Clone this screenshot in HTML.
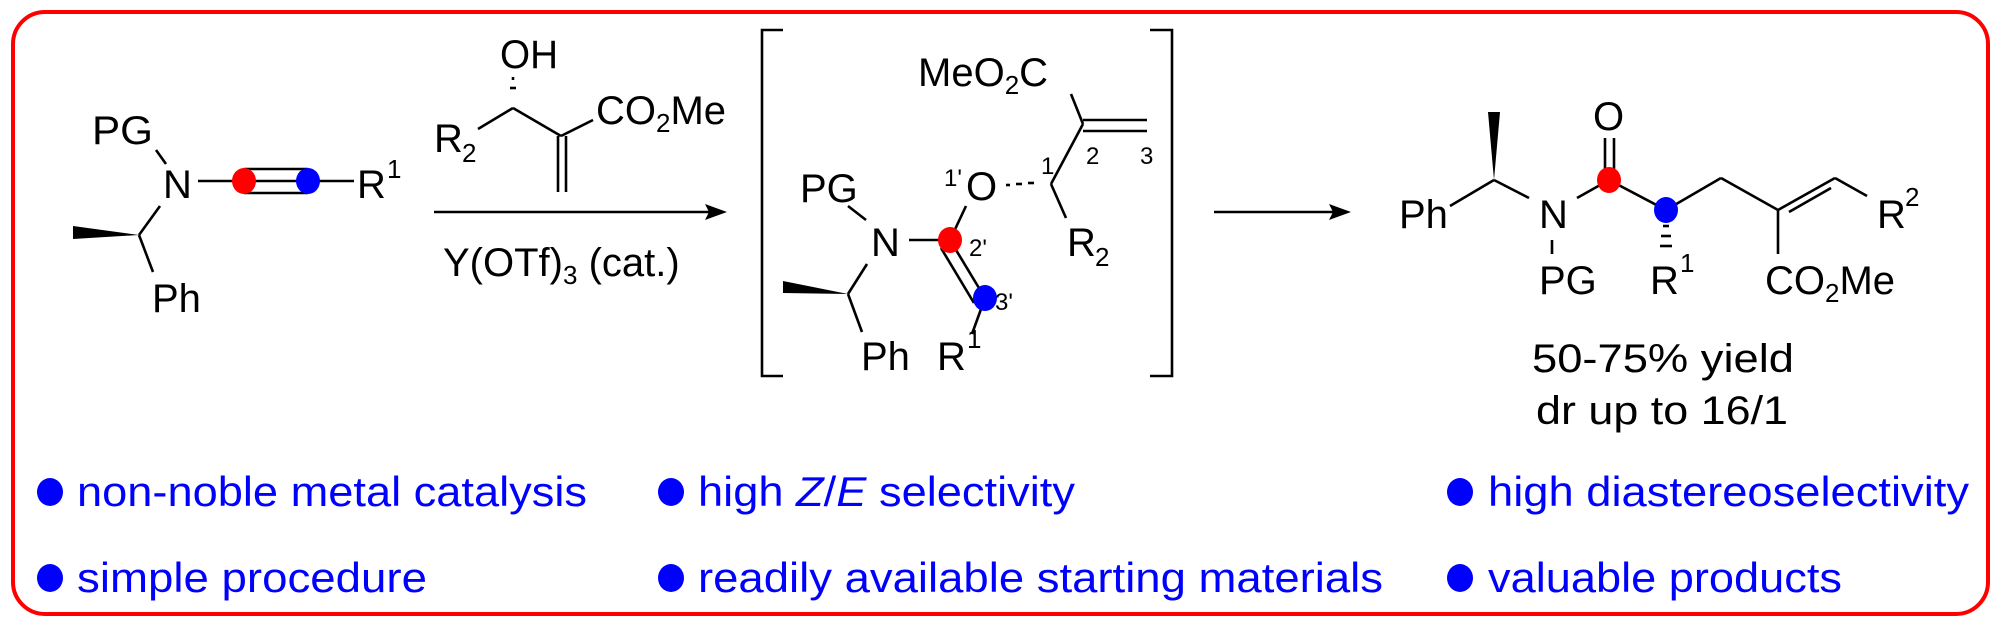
<!DOCTYPE html>
<html><head><meta charset="utf-8"><style>
html,body{margin:0;padding:0;background:#fff;}
svg{display:block;}
text{font-family:"Liberation Sans",Arial,sans-serif;}
</style></head><body>
<svg width="2000" height="620" viewBox="0 0 2000 620" xmlns="http://www.w3.org/2000/svg">
<rect x="13" y="12" width="1975" height="602" rx="32" ry="32" fill="none" stroke="#ff0000" stroke-width="4"/>
<g stroke="#000" stroke-width="2.6" fill="none">
<!-- SM -->
<line x1="156" y1="150" x2="166" y2="164"/>
<line x1="198" y1="181" x2="354" y2="181"/>
<line x1="244" y1="169" x2="308" y2="169"/>
<line x1="244" y1="193" x2="308" y2="193"/>
<line x1="160" y1="206" x2="139" y2="235"/>
<line x1="139" y1="235" x2="153" y2="272"/>
<!-- reagent -->
<line x1="478" y1="129" x2="513" y2="108"/>
<line x1="513" y1="108" x2="561" y2="136"/>
<line x1="561" y1="136" x2="593" y2="120"/>
<line x1="558" y1="136" x2="558" y2="192"/>
<line x1="566" y1="136" x2="566" y2="192"/>
<line x1="513" y1="77" x2="513" y2="80"/>
<line x1="510" y1="88" x2="516" y2="88"/>
<line x1="434" y1="212" x2="712" y2="212"/>
<!-- bracket -->
<polyline points="783,30 762,30 762,376 783,376"/>
<polyline points="1150,30 1172,30 1172,376 1150,376"/>
<!-- intermediate -->
<line x1="848" y1="206" x2="866" y2="220"/>
<line x1="909" y1="240" x2="940" y2="240"/>
<line x1="950" y1="240" x2="966" y2="206"/>
<line x1="950" y1="240" x2="985" y2="298"/>
<line x1="941" y1="248" x2="974" y2="303"/>
<line x1="867" y1="264" x2="848" y2="294"/>
<line x1="848" y1="294" x2="862" y2="332"/>
<line x1="985" y1="298" x2="972" y2="334"/>
<line x1="1006" y1="185" x2="1010" y2="185"/>
<line x1="1016" y1="184" x2="1022" y2="184"/>
<line x1="1028" y1="183" x2="1034" y2="183"/>
<line x1="1071" y1="94" x2="1083" y2="124"/>
<line x1="1083" y1="120" x2="1147" y2="120"/>
<line x1="1083" y1="131" x2="1147" y2="131"/>
<line x1="1083" y1="124" x2="1051" y2="184"/>
<line x1="1051" y1="184" x2="1066" y2="218"/>
<line x1="1214" y1="212" x2="1340" y2="212"/>
<!-- product -->
<line x1="1450" y1="206" x2="1494" y2="180"/>
<line x1="1494" y1="180" x2="1529" y2="198"/>
<line x1="1552" y1="240" x2="1552" y2="254"/>
<line x1="1577" y1="198" x2="1609" y2="180"/>
<line x1="1605" y1="138" x2="1605" y2="180"/>
<line x1="1614" y1="138" x2="1614" y2="180"/>
<line x1="1609" y1="180" x2="1666" y2="210"/>
<line x1="1666" y1="210" x2="1721" y2="178"/>
<line x1="1721" y1="178" x2="1778" y2="210"/>
<line x1="1778" y1="210" x2="1835" y2="178"/>
<line x1="1789" y1="212" x2="1831" y2="188"/>
<line x1="1835" y1="178" x2="1867" y2="196"/>
<line x1="1778" y1="210" x2="1778" y2="254"/>
<line x1="1663" y1="226" x2="1669" y2="226"/>
<line x1="1661" y1="236" x2="1671" y2="236"/>
<line x1="1660" y1="246" x2="1672" y2="246"/>
</g>
<g fill="#000">
<polygon points="139,235 73,226 73,239"/>
<polygon points="848,294 783,281 783,293"/>
<polygon points="1494,180 1488,112 1500,112"/>
<polygon points="727,212 705,204 709,212 705,220"/>
<polygon points="1351,212 1329,204 1333,212 1329,220"/>
</g>
<g>
<ellipse cx="244" cy="181" rx="12" ry="13" fill="#ff0000"/>
<ellipse cx="308" cy="181" rx="12" ry="13" fill="#0000ff"/>
<ellipse cx="950" cy="240" rx="12" ry="13" fill="#ff0000"/>
<ellipse cx="985" cy="298" rx="12" ry="13" fill="#0000ff"/>
<ellipse cx="1609" cy="180" rx="12" ry="13" fill="#ff0000"/>
<ellipse cx="1666" cy="210" rx="12" ry="13" fill="#0000ff"/>
</g>
<g font-size="40" fill="#000">
<text x="92" y="144" textLength="61" lengthAdjust="spacingAndGlyphs">PG</text>
<text x="163" y="198">N</text>
<text x="357" y="198">R</text><text x="387" y="178" font-size="26">1</text>
<text x="152" y="312">Ph</text>
<text x="500" y="68" textLength="58" lengthAdjust="spacingAndGlyphs">OH</text>
<text x="434" y="152">R</text><text x="462" y="162" font-size="26">2</text>
<text x="596" y="124">CO<tspan font-size="26" dy="8">2</tspan><tspan dy="-8">Me</tspan></text>
<text x="443" y="276">Y(OTf)<tspan font-size="26" dy="8">3</tspan><tspan dy="-8"> (cat.)</tspan></text>
<text x="918" y="86">MeO<tspan font-size="26" dy="8">2</tspan><tspan dy="-8">C</tspan></text>
<text x="800" y="202">PG</text>
<text x="944" y="186" font-size="24">1'</text>
<text x="966" y="200">O</text>
<text x="871" y="256">N</text>
<text x="969" y="256" font-size="24">2'</text>
<text x="995" y="310" font-size="24">3'</text>
<text x="1041" y="174" font-size="24">1</text>
<text x="1086" y="164" font-size="24">2</text>
<text x="1140" y="164" font-size="24">3</text>
<text x="1067" y="256">R</text><text x="1095" y="266" font-size="26">2</text>
<text x="861" y="370">Ph</text>
<text x="937" y="370">R</text><text x="967" y="348" font-size="26">1</text>
<text x="1399" y="228">Ph</text>
<text x="1539" y="228">N</text>
<text x="1539" y="294">PG</text>
<text x="1593" y="130">O</text>
<text x="1650" y="294">R</text><text x="1680" y="272" font-size="26">1</text>
<text x="1877" y="228">R</text><text x="1905" y="206" font-size="26">2</text>
<text x="1765" y="294">CO<tspan font-size="26" dy="8">2</tspan><tspan dy="-8">Me</tspan></text>
<text x="1532" y="372" textLength="262" lengthAdjust="spacingAndGlyphs">50-75% yield</text>
<text x="1536" y="424" textLength="252" lengthAdjust="spacingAndGlyphs">dr up to 16/1</text>
</g>
<g fill="#0000ff">
<ellipse cx="50" cy="492" rx="13" ry="14"/>
<ellipse cx="50" cy="578" rx="13" ry="14"/>
<ellipse cx="671" cy="492" rx="13" ry="14"/>
<ellipse cx="671" cy="578" rx="13" ry="14"/>
<ellipse cx="1460" cy="492" rx="13" ry="14"/>
<ellipse cx="1460" cy="578" rx="13" ry="14"/>
</g>
<g font-size="42" fill="#0000ff">
<text x="77" y="506" textLength="510" lengthAdjust="spacingAndGlyphs">non-noble metal catalysis</text>
<text x="77" y="592" textLength="350" lengthAdjust="spacingAndGlyphs">simple procedure</text>
<text x="698" y="506" textLength="377" lengthAdjust="spacingAndGlyphs">high <tspan font-style="italic">Z</tspan>/<tspan font-style="italic">E</tspan> selectivity</text>
<text x="698" y="592" textLength="685" lengthAdjust="spacingAndGlyphs">readily available starting materials</text>
<text x="1488" y="506" textLength="481" lengthAdjust="spacingAndGlyphs">high diastereoselectivity</text>
<text x="1488" y="592" textLength="354" lengthAdjust="spacingAndGlyphs">valuable products</text>
</g>
</svg>
</body></html>
